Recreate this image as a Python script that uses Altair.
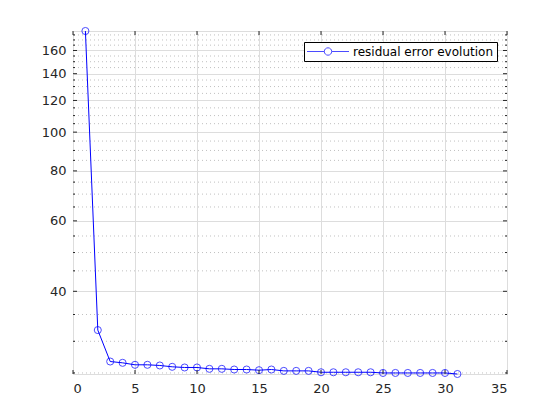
import altair as alt
import pandas as pd

iterations = list(range(1, 32))
residual = [179, 32.0, 26.7, 26.5, 26.2, 26.2, 26.1, 25.9, 25.8, 25.8, 25.6, 25.6,
            25.5, 25.5, 25.4, 25.5, 25.3, 25.3, 25.3, 25.1, 25.1, 25.1, 25.1, 25.1,
            25.0, 25.0, 25.0, 25.0, 25.0, 25.0, 24.85]
series_name = "residual error evolution"
y_major = [40, 60, 80, 100, 120, 140, 160]
y_minor = [25, 30, 35, 45, 50, 55, 65, 70, 75, 85, 90, 95, 105, 110, 115, 125,
           130, 135, 145, 150, 155, 165, 170, 175]
x_ticks = [0, 5, 10, 15, 20, 25, 30, 35]
y_domain = [24.85, 179]
x_domain = [0, 35]

W, H = 434, 343
df = pd.DataFrame({"it": iterations, "res": residual, "series": series_name})
df_major = pd.DataFrame({"v": y_major})
df_minor = pd.DataFrame({"v": y_minor})
df_xt = pd.DataFrame({"v": x_ticks})

yscale = alt.Scale(type="log", domain=y_domain, nice=False, zero=False)
xscale = alt.Scale(domain=x_domain, nice=False, zero=False)

lab = dict(labelFont="DejaVu Sans", labelFontSize=13, labelColor="#262626")
yaxis = alt.Axis(values=y_major, grid=True, ticks=False, domain=False,
                 labelPadding=7, format="d", **lab)
xaxis = alt.Axis(values=x_ticks, grid=True, ticks=False, domain=False,
                 labelPadding=8, format="d", **lab)


def yenc(field):
    return alt.Y(field, scale=yscale, title=None, axis=yaxis)


def xenc(field):
    return alt.X(field, scale=xscale, title=None, axis=xaxis)


r = 0.74
sym = (f"M-4.2,0H-{r}M{r},0H4.2M{r},0A{r},{r},0,1,1,-{r},0A{r},{r},0,1,1,{r},0")
color = alt.Color("series:N", scale=alt.Scale(domain=[series_name], range=["#0000ff"]),
                  title=None,
                  legend=alt.Legend(
                      orient="none", legendX=231, legendY=11,
                      symbolType=sym, symbolSize=100, symbolOffset=14.5,
                      symbolStrokeWidth=1, symbolFillColor="transparent",
                      labelFontSize=12, labelFont="DejaVu Sans", labelColor="#000000",
                      labelOffset=19, padding=3.5, strokeColor="#000000", fillColor="#ffffff",
                      cornerRadius=0))

minor_grid = alt.Chart(df_minor).mark_rule(color="#c0c0c0", strokeDash=[1, 3], strokeWidth=1).encode(
    y=yenc("v:Q"))

line = alt.Chart(df).mark_line(strokeWidth=1).encode(x=xenc("it:Q"), y=yenc("res:Q"), color=color)
pts = alt.Chart(df).mark_point(shape="circle", filled=False, size=50, strokeWidth=1).encode(
    x=xenc("it:Q"), y=yenc("res:Q"), color=color)

tick_col = "#262626"
lt_major = alt.Chart(df_major).mark_rule(color=tick_col).encode(
    y=yenc("v:Q"), x=alt.value(0), x2=alt.value(4))
rt_major = alt.Chart(df_major).mark_rule(color=tick_col).encode(
    y=yenc("v:Q"), x=alt.value(W - 4), x2=alt.value(W))
lt_minor = alt.Chart(df_minor).mark_rule(color=tick_col).encode(
    y=yenc("v:Q"), x=alt.value(0), x2=alt.value(2))
rt_minor = alt.Chart(df_minor).mark_rule(color=tick_col).encode(
    y=yenc("v:Q"), x=alt.value(W - 2), x2=alt.value(W))
bt = alt.Chart(df_xt).mark_rule(color=tick_col).encode(
    x=xenc("v:Q"), y=alt.value(H - 4), y2=alt.value(H))
tp = alt.Chart(df_xt).mark_rule(color=tick_col).encode(
    x=xenc("v:Q"), y=alt.value(0), y2=alt.value(4))

chart = alt.layer(minor_grid, line, pts, lt_major, rt_major, lt_minor, rt_minor, bt, tp).properties(
    width=W, height=H,
    autosize=alt.AutoSizeParams(type="none"),
    padding={"left": 65, "top": 23, "right": 30, "bottom": 30},
).configure_view(stroke="#262626", strokeWidth=1).configure_axis(
    gridColor="#dfdfdf", gridWidth=1,
).configure(background="white")

chart.save("out.html", embed_options={"renderer": "svg", "actions": False})
